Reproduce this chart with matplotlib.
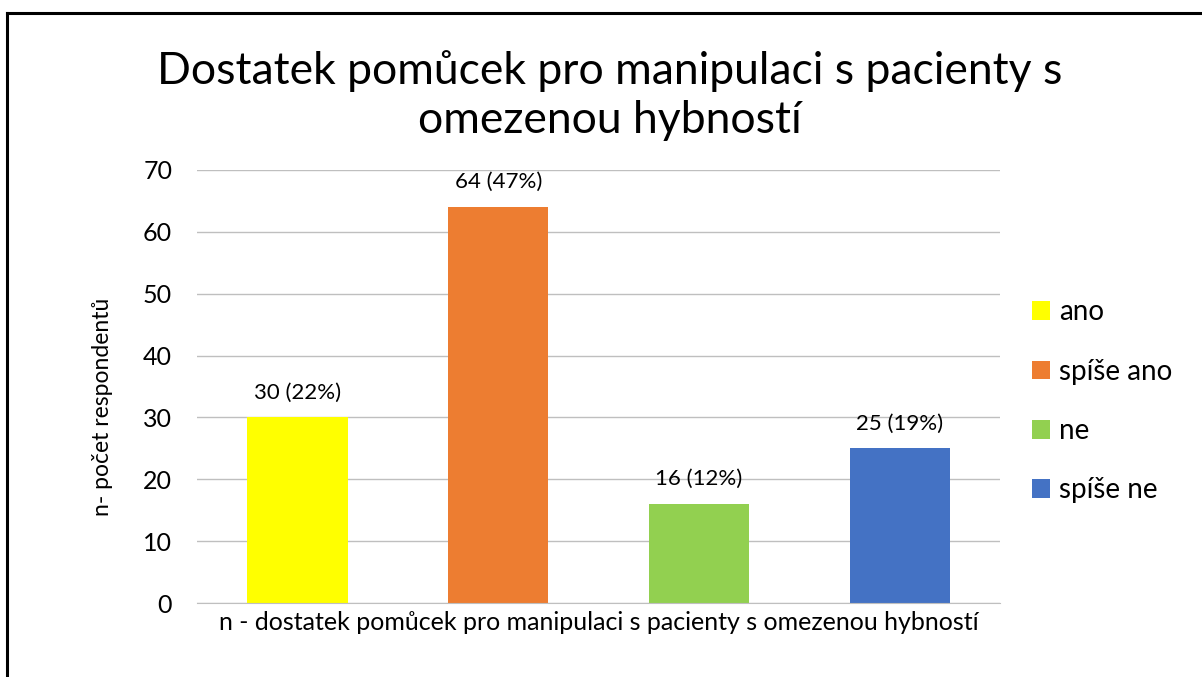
import matplotlib
matplotlib.use("Agg")
import matplotlib.pyplot as plt
from matplotlib.lines import Line2D
from matplotlib.patches import Patch

plt.rcParams['font.family'] = ['Lato', 'DejaVu Sans']

kategorie = ['ano', 'spíše ano', 'ne', 'spíše ne']
pocty = [30, 64, 16, 25]
popisky = ['30 (22%)', '64 (47%)', '16 (12%)', '25 (19%)']
barvy = ['#ffff00', '#ed7d31', '#92d050', '#4472c4']

fig = plt.figure(figsize=(12.02, 6.77), dpi=100)
ax = fig.add_axes([0.164, 0.1093, 0.668, 0.6397])

x = range(len(kategorie))
bars = ax.bar(x, pocty, width=0.5, color=barvy, zorder=3)
for b, txt in zip(bars, popisky):
    ax.text(b.get_x() + b.get_width() / 2, b.get_height() + 4.0, txt,
            ha='center', va='center', fontsize=16)

ax.set_xlim(-0.5, 3.5)
ax.set_ylim(0, 70)
ax.set_yticks(range(0, 71, 10))
ax.set_xticks([])
ax.tick_params(axis='y', length=0, labelsize=18, pad=18)
ax.grid(axis='y', color='#bfbfbf', linewidth=1, zorder=0)
for s in ['top', 'right', 'left']:
    ax.spines[s].set_visible(False)
ax.spines['bottom'].set_color('#bfbfbf')
ax.spines['bottom'].set_zorder(4)

ax.set_xlabel('n - dostatek pomůcek pro manipulaci s pacienty s omezenou hybností',
              fontsize=18, labelpad=6)
ax.set_ylabel('n- počet respondentů', fontsize=16.5)
ax.yaxis.set_label_coords(-0.105, 0.453)

fig.text(0.507, 0.859, 'Dostatek pomůcek pro manipulaci s pacienty s\nomezenou hybností',
         ha='center', va='center', fontsize=32, linespacing=1.22)

handles = [Patch(facecolor=c) for c in barvy]
fig.legend(handles, kategorie, loc='center left', bbox_to_anchor=(0.849, 0.407),
           frameon=False, fontsize=20, handlelength=0.65, handleheight=0.65,
           handletextpad=0.35, labelspacing=1.2, borderaxespad=0)

# ramecek kolem grafu
fig.add_artist(Line2D([7 / 1202, 7 / 1202], [0, 1 - 13 / 677], color='black', linewidth=2.2))
fig.add_artist(Line2D([7 / 1202, 1], [1 - 13 / 677, 1 - 13 / 677], color='black', linewidth=2.2))

fig.savefig('out.png', dpi=100)
